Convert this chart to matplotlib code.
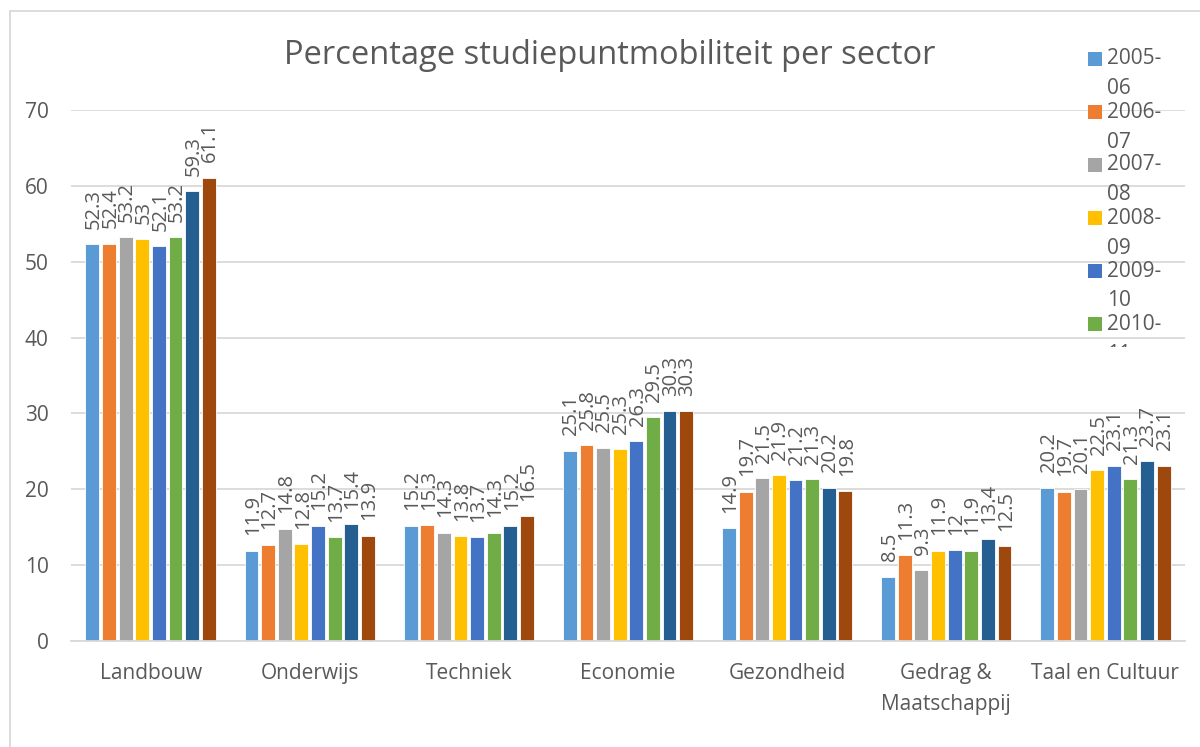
import matplotlib
matplotlib.use("Agg")
import matplotlib.pyplot as plt
import numpy as np
from matplotlib.patches import Rectangle

plt.rcParams['font.family'] = ['Open Sans', 'DejaVu Sans']

categories = ["Landbouw", "Onderwijs", "Techniek", "Economie", "Gezondheid",
              "Gedrag &\nMaatschappij", "Taal en Cultuur"]
series_names = ["2005-06", "2006-07", "2007-08", "2008-09", "2009-10",
                "2010-11", "2011-12", "2012-13"]
v_2005_06 = [52.3, 11.9, 15.2, 25.1, 14.9, 8.5, 20.2]
v_2006_07 = [52.4, 12.7, 15.3, 25.8, 19.7, 11.3, 19.7]
v_2007_08 = [53.2, 14.8, 14.3, 25.5, 21.5, 9.3, 20.1]
v_2008_09 = [53.0, 12.8, 13.8, 25.3, 21.9, 11.9, 22.5]
v_2009_10 = [52.1, 15.2, 13.7, 26.3, 21.2, 12.0, 23.1]
v_2010_11 = [53.2, 13.7, 14.3, 29.5, 21.3, 11.9, 21.3]
v_2011_12 = [59.3, 15.4, 15.2, 30.3, 20.2, 13.4, 23.7]
v_2012_13 = [61.1, 13.9, 16.5, 30.3, 19.8, 12.5, 23.1]
values = [v_2005_06, v_2006_07, v_2007_08, v_2008_09, v_2009_10,
          v_2010_11, v_2011_12, v_2012_13]
colors = ["#5B9BD5", "#ED7D31", "#A5A5A5", "#FFC000", "#4472C4",
          "#70AD47", "#255E91", "#9E480E"]
yticks = [0, 10, 20, 30, 40, 50, 60, 70]

W, H = 1200, 747
fig = plt.figure(figsize=(12, 7.47), dpi=100)
ax = fig.add_axes([71 / W, 1 - 641 / H, (1185 - 71) / W, (641 - 110) / H])

x = np.arange(len(categories))
pitch = 0.1044
bw = 0.087
n = len(values)
txt = "#595959"
fs = 14.5
for i, (vals, c) in enumerate(zip(values, colors)):
    pos = x + (i - (n - 1) / 2) * pitch
    ax.bar(pos, vals, width=bw, color=c, edgecolor="white", linewidth=0.6, zorder=3)
    for xb, v in zip(pos, vals):
        ax.annotate(f"{v:g}", (xb, v), xytext=(1, 11), textcoords="offset points",
                    rotation=90, ha="center", va="bottom", fontsize=fs,
                    color=txt, annotation_clip=False)

ax.set_xlim(-0.5, len(categories) - 0.5)
ax.set_ylim(0, 70)
ax.set_yticks(yticks)
ax.set_yticklabels([str(t) for t in yticks])
ax.set_xticks(x)
ax.set_xticklabels(categories, linespacing=1.6)
ax.tick_params(axis="both", length=0, labelsize=15, labelcolor=txt)
ax.tick_params(axis="y", pad=16)
ax.tick_params(axis="x", pad=16)
ax.grid(axis="y", color="#D9D9D9", linewidth=1.3, zorder=0)
for s in ["top", "right", "left"]:
    ax.spines[s].set_visible(False)
ax.spines["bottom"].set_color("#D9D9D9")
ax.spines["bottom"].set_linewidth(1.3)
ax.spines["bottom"].set_zorder(4)

fig.text(610 / W, 1 - 56 / H, "Percentage studiepuntmobiliteit per sector",
         ha="center", va="center", fontsize=23.5, color=txt)

# legend (only the first six entries fit in the reference)
clip = Rectangle((0, 1 - 347 / H), 1, 347 / H, transform=fig.transFigure)
for i in range(6):
    yc = 59 + i * 53
    fig.patches.append(Rectangle((1088 / W, 1 - (yc + 7) / H), 14 / W, 14 / H,
                                 transform=fig.transFigure, facecolor=colors[i],
                                 edgecolor="none", zorder=5))
    a, b = series_names[i].split("-")
    fig.text(1107 / W, 1 - yc / H, a + "-", ha="left", va="center",
             fontsize=15, color=txt, zorder=6)
    t = fig.text(1107 / W, 1 - (yc + 30) / H, b, ha="left", va="center",
                 fontsize=15, color=txt, zorder=6)
    t.set_clip_path(clip)

# chart border
fig.patches.append(Rectangle((10 / W, -0.01), 1.2, 1 - 11 / H + 0.01,
                             transform=fig.transFigure, fill=False,
                             edgecolor="#D9D9D9", linewidth=1.3))

fig.savefig("out.png", dpi=100)
